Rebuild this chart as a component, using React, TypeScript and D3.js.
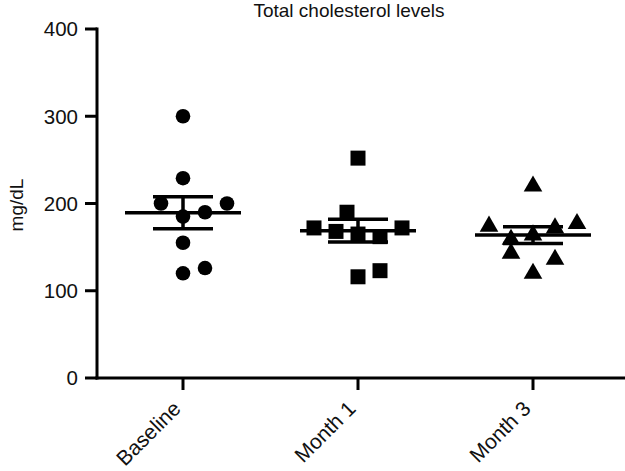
import React from "react";
import * as d3 from "d3";

const categories = ["Baseline", "Month 1", "Month 3"];
const baselineValues = [300, 229, 200, 185, 190, 200, 155, 120, 126];
const baselineCols = [0, 0, -1, 0, 1, 2, 0, 0, 1];
const month1Values = [252, 190, 172, 172, 168, 165, 162, 116, 123];
const month1Cols = [0, -0.5, -2, 2, -1, 0, 1, 0, 1];
const month3Values = [221, 175, 173, 178, 165, 160, 144, 137, 121];
const month3Cols = [0, -2, 1, 2, 0, -1, -1, 1, 0];
const yTicks = [0, 100, 200, 300, 400];
const title = "Total cholesterol levels";
const yLabel = "mg/dL";

const W = 625;
const H = 471;
const FONT = "'Liberation Sans', Arial, Helvetica, sans-serif";

const groups = [
  { name: categories[0], values: baselineValues, cols: baselineCols, shape: "circle" },
  { name: categories[1], values: month1Values, cols: month1Cols, shape: "square" },
  { name: categories[2], values: month3Values, cols: month3Cols, shape: "triangle" },
];

function stats(v: number[]) {
  const m = d3.mean(v) as number;
  const sd = d3.deviation(v) as number;
  return { mean: m, sem: sd / Math.sqrt(v.length) };
}

export default function App() {
  const x = d3.scalePoint<string>().domain(categories).range([95.5, 620.5]).padding(0.5);
  const y = d3.scaleLinear().domain([0, 400]).range([378, 29]);
  const colScale = d3.scaleLinear().domain([-1, 1]).range([-22, 22]);

  const sym = {
    circle: d3.symbol().type(d3.symbolCircle).size(Math.PI * 7.3 * 7.3)(),
    square: d3.symbol().type(d3.symbolSquare).size(15 * 15)(),
    triangle: d3.symbol().type(d3.symbolTriangle).size(150)(),
  } as Record<string, string>;

  const x0 = 97;
  const yBase = y(0);

  return (
    <svg width={W} height={H} style={{ position: "absolute", left: 0, top: 0, background: "#fff" }}>
      <text x={349} y={17} textAnchor="middle" fontFamily={FONT} fontSize={19} fill="#111">
        {title}
      </text>
      <text
        transform={`translate(23,205) rotate(-90)`}
        textAnchor="middle"
        fontFamily={FONT}
        fontSize={19}
        fill="#111"
      >
        {yLabel}
      </text>

      {/* y axis */}
      <line x1={x0} x2={x0} y1={y(400) - 1.5} y2={yBase + 1.5} stroke="#000" strokeWidth={3} />
      {yTicks.map((t) => (
        <g key={t}>
          <line x1={x0 - 12} x2={x0} y1={y(t)} y2={y(t)} stroke="#000" strokeWidth={3} />
          <text
            x={x0 - 19}
            y={y(t)}
            dy="0.36em"
            textAnchor="end"
            fontFamily={FONT}
            fontSize={20.5}
            fill="#111"
          >
            {t}
          </text>
        </g>
      ))}

      {/* x axis */}
      <line x1={x0 - 1.5} x2={W} y1={yBase} y2={yBase} stroke="#000" strokeWidth={3} />
      {categories.map((c) => (
        <g key={c}>
          <line x1={x(c)} x2={x(c)} y1={yBase} y2={yBase + 12} stroke="#000" strokeWidth={3} />
          <text
            transform={`translate(${(x(c) as number) - 1},${yBase + 32}) rotate(-45)`}
            textAnchor="end"
            fontFamily={FONT}
            fontSize={21}
            fill="#111"
          >
            {c}
          </text>
        </g>
      ))}

      {/* points and mean ± SEM */}
      {groups.map((g) => {
        const cx = x(g.name) as number;
        const s = stats(g.values);
        return (
          <g key={g.name}>
            {g.values.map((v, i) => (
              <path
                key={i}
                d={sym[g.shape]}
                transform={`translate(${cx + colScale(g.cols[i])},${y(v) + (g.shape === "triangle" ? 1 : 0)})`}
                fill="#000"
              />
            ))}
            <line x1={cx - 58} x2={cx + 58} y1={y(s.mean)} y2={y(s.mean)} stroke="#000" strokeWidth={3.5} />
            <line x1={cx} x2={cx} y1={y(s.mean + s.sem)} y2={y(s.mean - s.sem)} stroke="#000" strokeWidth={3.5} />
            <line
              x1={cx - 30}
              x2={cx + 30}
              y1={y(s.mean + s.sem)}
              y2={y(s.mean + s.sem)}
              stroke="#000"
              strokeWidth={3.5}
            />
            <line
              x1={cx - 30}
              x2={cx + 30}
              y1={y(s.mean - s.sem)}
              y2={y(s.mean - s.sem)}
              stroke="#000"
              strokeWidth={3.5}
            />
          </g>
        );
      })}
    </svg>
  );
}
